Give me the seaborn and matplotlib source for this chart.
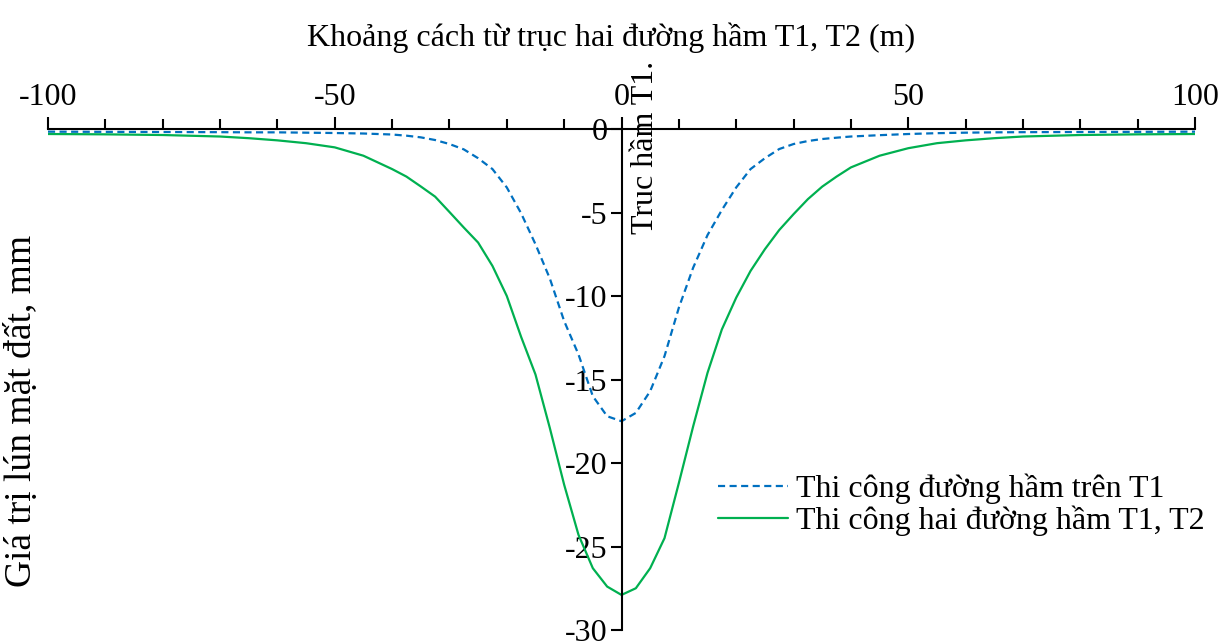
import matplotlib
matplotlib.use("Agg")
import matplotlib.pyplot as plt
from matplotlib.ticker import MultipleLocator
import seaborn as sns
import pandas as pd

# ---- data ----
x_pos = [-100, -90, -80, -70, -65, -60, -55, -50, -45, -40, -37.5, -35, -32.5, -30, -27.5, -25, -22.5, -20,
         -17.5, -15, -12.5, -10, -7.5, -5, -2.5, 0, 2.5, 5, 7.5, 10, 12.5, 15, 17.5, 20,
         22.5, 25, 27.5, 30, 32.5, 35, 37.5, 40, 45, 50, 55, 60, 65, 70, 80, 90, 100]

s_t1 = [-0.16, -0.17, -0.18, -0.19, -0.20, -0.20, -0.22, -0.24, -0.27, -0.33, -0.40, -0.50, -0.66, -0.90, -1.22, -1.75, -2.40, -3.50,
        -5.05, -6.90, -8.95, -11.5, -13.5, -16.0, -17.2, -17.5, -17.0, -15.7, -13.6, -10.7, -8.3, -6.35, -4.85, -3.50,
        -2.40, -1.75, -1.20, -0.90, -0.72, -0.60, -0.52, -0.45, -0.37, -0.30, -0.25, -0.22, -0.20, -0.19, -0.18, -0.17, -0.16]

s_t12 = [-0.30, -0.32, -0.36, -0.45, -0.55, -0.68, -0.85, -1.10, -1.60, -2.40, -2.85, -3.44, -4.05, -4.97, -5.90, -6.80, -8.20, -10.0,
         -12.45, -14.7, -17.9, -21.3, -24.3, -26.3, -27.4, -27.9, -27.5, -26.3, -24.5, -21.2, -17.8, -14.6, -12.0, -10.1,
         -8.50, -7.20, -6.05, -5.10, -4.20, -3.45, -2.85, -2.30, -1.60, -1.15, -0.85, -0.68, -0.55, -0.45, -0.36, -0.32, -0.30]

label_t1 = "Thi công đường hầm trên T1"
label_t12 = "Thi công hai đường hầm T1, T2"
x_title = "Khoảng cách từ trục hai đường hầm T1, T2 (m)"
y_title = "Giá trị lún mặt đất, mm"
axis_note = "Truc hầm T1."
x_ticks = [-100, -50, 0, 50, 100]
y_ticks = [0, -5, -10, -15, -20, -25, -30]

df = pd.DataFrame({
    "x": x_pos * 2,
    "y": s_t1 + s_t12,
    "series": [label_t1] * len(x_pos) + [label_t12] * len(x_pos),
})

sns.set_theme(style="white")
plt.rcParams["font.family"] = ["Liberation Serif", "DejaVu Serif"]
plt.rcParams["axes.unicode_minus"] = False
for k in ["text.color", "axes.labelcolor", "xtick.color", "ytick.color"]:
    plt.rcParams[k] = "black"

fig = plt.figure(figsize=(12.22, 6.41), dpi=100)
ax = fig.add_axes([48 / 1222, 1 - 630 / 641, (1195 - 48) / 1222, (630 - 129) / 641])

palette = {label_t1: "#0070C0", label_t12: "#00B050"}
sns.lineplot(data=df, x="x", y="y", hue="series", style="series",
             palette=palette, dashes={label_t1: (3.2, 2.0), label_t12: ""},
             estimator=None, sort=False, linewidth=1.6, ax=ax)

ax.set_xlim(-100, 100)
ax.set_ylim(-30, 0)

# spines: x axis on top (y=0), y axis at x=0
for s in ["bottom", "right"]:
    ax.spines[s].set_visible(False)
ax.spines["left"].set_position(("data", 0))
for s in ["top", "left"]:
    ax.spines[s].set_color("black")
    ax.spines[s].set_linewidth(1.5)

ax.xaxis.set_ticks_position("top")
ax.xaxis.set_label_position("top")
ax.set_xticks(x_ticks)
ax.set_xticklabels([str(v) for v in x_ticks])
ax.xaxis.set_minor_locator(MultipleLocator(10))
ax.set_yticks(y_ticks)
ax.set_yticklabels([str(v) for v in y_ticks])

ax.tick_params(axis="x", which="major", direction="out", length=9, width=1.5,
               labelsize=23, pad=3, colors="black")
ax.tick_params(axis="x", which="minor", direction="out", length=7, width=1.5, top=True)
ax.tick_params(axis="y", which="major", direction="out", length=8, width=1.5,
               labelsize=23, pad=2, colors="black", left=True)

ax.set_xlabel(x_title, fontsize=23)
ax.xaxis.set_label_coords((611 - 48) / 1147, (630 - 46) / 501)
ax.set_ylabel(y_title, fontsize=27)
ax.yaxis.set_label_coords((39 - 48) / 1147, (630 - 411) / 501)

ax.text(1.6, -6.3, axis_note, rotation=90, ha="left", va="bottom",
        fontsize=23, clip_on=False)

ax.grid(False)
ax.set_facecolor("white")
leg = ax.legend(loc="center left", bbox_to_anchor=((718 - 48) / 1147, (630 - 505) / 501),
                frameon=False, fontsize=23, handlelength=2.2, handletextpad=0.25,
                labelspacing=0.05, borderpad=0, borderaxespad=0)
for line in leg.get_lines():
    line.set_linewidth(1.6)

fig.savefig("out.png", dpi=100, facecolor="white")
